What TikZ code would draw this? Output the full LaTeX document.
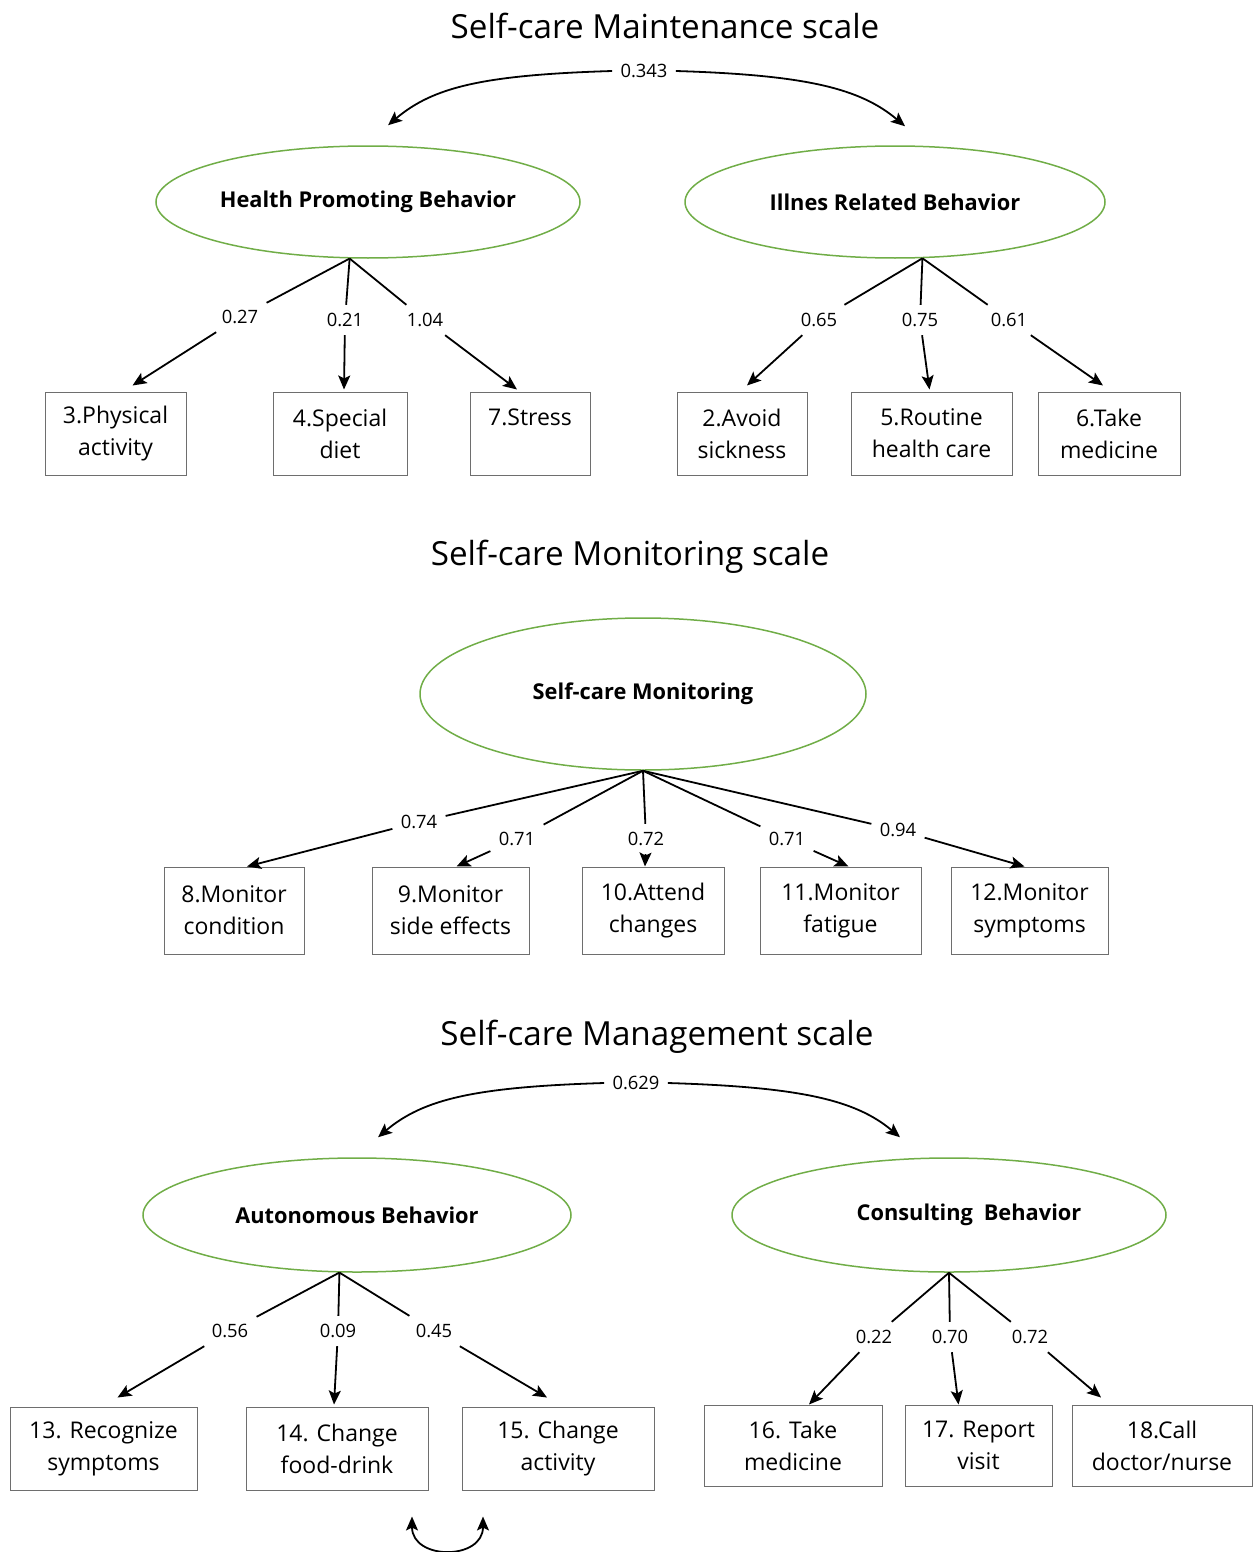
\documentclass[tikz,border=0pt]{standalone}
\usepackage{fontspec}
\setmainfont{Open Sans}
\usetikzlibrary{shapes.geometric, positioning, arrows.meta, calc}
\definecolor{latentGreen}{RGB}{112,173,71}
\definecolor{itemGray}{RGB}{110,110,110}
\newcommand{\titleFont}{\fontsize{16.6}{20}\selectfont}
\newcommand{\itemFont}{\fontsize{11.5}{16}\selectfont}
\newcommand{\loadFont}{\fontsize{9.2}{11}\selectfont}
\tikzstyle{scaleTitle}=[font=\titleFont, inner sep=0pt]
\tikzstyle{latent}=[ellipse, draw=latentGreen, line width=0.75pt, inner sep=0pt, font=\bfseries\fontsize{10.9}{13}\selectfont]
\tikzstyle{item}=[draw=itemGray, line width=0.5pt, align=center, font=\itemFont, inner sep=0pt]
\tikzstyle{loading}=[font=\loadFont, inner sep=4pt]
\tikzstyle{stem}=[line width=0.9pt]
\tikzstyle{arrow}=[-{Stealth[length=7pt, width=6pt, inset=1.5pt]}, line width=0.9pt]

\begin{document}
\begin{tikzpicture}[x=0.5pt, y=-0.5pt]
  \useasboundingbox (0,0) rectangle (1253,1552);

  % Self-care Maintenance
  \node[scaleTitle] (titleMaint) at (665,26) {Self-care Maintenance scale};
  \node[latent, minimum width=212pt, minimum height=56pt] (hpb) at (368,202) {Health Promoting Behavior};
  \node[latent, minimum width=210pt, minimum height=56pt] (irb) at (895,202) {Illnes Related Behavior};
  \node[loading] (l343) at (644,71) {0.343};
  \draw[arrow] (l343.west) .. controls +(-130,4) and +(45,-38) .. ($(hpb.north)+(20,-20)$);
  \draw[arrow] (l343.east) .. controls +(130,4) and +(-45,-38) .. ($(irb.north)+(10,-19)$);

  \node[item, minimum width=70.5pt, minimum height=41.5pt] (box3) at (115.5,433.5) {3.Physical\\activity};
  \node[item, minimum width=67pt, minimum height=41.5pt] (box4) at (340,433.5) {4.Special\\diet};
  \node[item, minimum width=60pt, minimum height=41.5pt] (box7) at (530,433.5) {7.Stress\\~};
  \node[item, minimum width=65pt, minimum height=41.5pt] (box2) at (742,433.5) {2.Avoid\\sickness};
  \node[item, minimum width=80.5pt, minimum height=41.5pt] (box5) at (931.5,433.5) {5.Routine\\health care};
  \node[item, minimum width=71pt, minimum height=41.5pt] (box6) at (1109,433.5) {6.Take\\medicine};

  \node[loading] (l027) at (240,317) {0.27};
  \node[loading] (l021) at (345,320) {0.21};
  \node[loading] (l104) at (425,320) {1.04};
  \node[loading] (l065) at (819,320) {0.65};
  \node[loading] (l075) at (920,320) {0.75};
  \node[loading] (l061) at (1009,320) {0.61};

  \foreach \lab in {l027, l021, l104} \draw[stem] (hpb.252) -- (\lab);
  \foreach \lab in {l065, l075, l061} \draw[stem] (irb.296) -- (\lab);
  \draw[arrow] (l027) -- ($(box3.north)+(17,-6)$);
  \draw[arrow] (l021) -- ($(box4.north)+(4,-2)$);
  \draw[arrow] (l104) -- ($(box7.north)+(-13,-2)$);
  \draw[arrow] (l065) -- ($(box2.north)+(5,-6)$);
  \draw[arrow] (l075) -- ($(box5.north)+(-2,-2)$);
  \draw[arrow] (l061) -- ($(box6.north)+(-6,-6)$);

  % Self-care Monitoring
  \node[scaleTitle] (titleMon) at (630,557) {Self-care Monitoring scale};
  \node[latent, minimum width=223pt, minimum height=76pt] (scm) at (643,694) {Self-care Monitoring};

  \node[item, minimum width=70pt, minimum height=43.5pt] (box8) at (234,910.5) {8.Monitor\\condition};
  \node[item, minimum width=78.5pt, minimum height=43.5pt] (box9) at (450.5,910.5) {9.Monitor\\side effects};
  \node[item, minimum width=71pt, minimum height=43.5pt] (box10) at (653,910.5) {10.Attend\\changes};
  \node[item, minimum width=80.5pt, minimum height=43.5pt] (box11) at (840.5,910.5) {11.Monitor\\fatigue};
  \node[item, minimum width=78.5pt, minimum height=43.5pt] (box12) at (1029.5,910.5) {12.Monitor\\symptoms};

  \node[loading] (l074) at (419,822) {0.74};
  \node[loading] (l071a) at (517,839) {0.71};
  \node[loading] (l072) at (646,839) {0.72};
  \node[loading] (l071b) at (787,839) {0.71};
  \node[loading] (l094) at (898,830) {0.94};

  \foreach \lab in {l074, l071a, l072, l071b, l094} \draw[stem] (scm.south) -- (\lab);
  \draw[arrow] (l074) -- ($(box8.north)+(13,0)$);
  \draw[arrow] (l071a) -- ($(box9.north)+(6,0)$);
  \draw[arrow] (l072) -- ($(box10.north)+(-8,0)$);
  \draw[arrow] (l071b) -- ($(box11.north)+(8,0)$);
  \draw[arrow] (l094) -- ($(box12.north)+(-5,0)$);

  % Self-care Management
  \node[scaleTitle] (titleMan) at (657,1037) {Self-care Management scale};
  \node[latent, minimum width=214pt, minimum height=57pt] (ab) at (357,1215) {Autonomous Behavior};
  \node[latent, minimum width=217pt, minimum height=57pt] (cb) at (949,1215) {\kern20pt Consulting\enspace Behavior};
  \node[loading] (l629) at (636,1083) {0.629};
  \draw[arrow] (l629.west) .. controls +(-130,4) and +(45,-38) .. ($(ab.north)+(21,-20)$);
  \draw[arrow] (l629.east) .. controls +(130,4) and +(-45,-38) .. ($(cb.north)+(-49,-20)$);

  \node[item, minimum width=93.5pt, minimum height=41.5pt] (box13) at (103.5,1448.5) {13. Recognize\\symptoms};
  \node[item, minimum width=91pt, minimum height=41.5pt] (box14) at (337,1448.5) {14. Change\\food-drink};
  \node[item, minimum width=96pt, minimum height=41.5pt] (box15) at (558,1448.5) {15. Change\\activity};
  \node[item, minimum width=89pt, minimum height=40.5pt] (box16) at (793,1445.5) {16. Take\\medicine};
  \node[item, minimum width=73.5pt, minimum height=40.5pt] (box17) at (978.5,1445.5) {17. Report\\visit};
  \node[item, minimum width=90pt, minimum height=40.5pt] (box18) at (1162,1445.5) {18.Call\\doctor/nurse};

  \node[loading] (l056) at (230,1331) {0.56};
  \node[loading] (l009) at (338,1331) {0.09};
  \node[loading] (l045) at (434,1331) {0.45};
  \node[loading] (l022) at (874,1337) {0.22};
  \node[loading] (l070) at (950,1337) {0.70};
  \node[loading] (l072b) at (1030,1337) {0.72};

  \foreach \lab in {l056, l009, l045} \draw[stem] (ab.253) -- (\lab);
  \foreach \lab in {l022, l070, l072b} \draw[stem] (cb.south) -- (\lab);
  \draw[arrow] (l056) -- ($(box13.north)+(14,-9)$);
  \draw[arrow] (l009) -- ($(box14.north)+(-3,-2)$);
  \draw[arrow] (l045) -- ($(box15.north)+(-11,-9)$);
  \draw[arrow] (l022) -- ($(box16.north)+(16,0)$);
  \draw[arrow] (l070) -- ($(box17.north)+(-20,0)$);
  \draw[arrow] (l072b) -- ($(box18.north)+(-61,-7)$);

  \coordinate (loopL) at ($(box14.south)+(75,26)$);
  \coordinate (loopR) at ($(box14.south)+(146,26)$);
  \draw[arrow, {Stealth[length=7pt, width=6pt, inset=1.5pt]}-{Stealth[length=7pt, width=6pt, inset=1.5pt]}] (loopL) .. controls +(0,44) and +(0,44) .. (loopR);
\end{tikzpicture}
\end{document}
